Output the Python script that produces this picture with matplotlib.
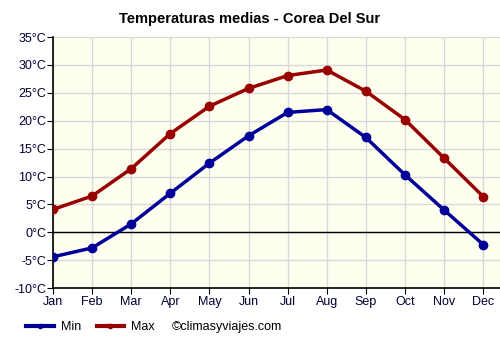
import matplotlib
matplotlib.use("Agg")
import matplotlib.pyplot as plt
from matplotlib.lines import Line2D

plt.rcParams['font.family'] = ['Liberation Sans', 'DejaVu Sans']

months = ['Jan', 'Feb', 'Mar', 'Apr', 'May', 'Jun', 'Jul', 'Aug', 'Sep', 'Oct', 'Nov', 'Dec']
t_min = [-4.4, -2.8, 1.5, 7.0, 12.4, 17.3, 21.5, 22.0, 17.0, 10.3, 4.0, -2.2]
t_max = [4.1, 6.5, 11.4, 17.7, 22.6, 25.8, 28.1, 29.1, 25.3, 20.2, 13.3, 6.4]
y_ticks = list(range(-10, 40, 5))

min_color = '#000099'
max_color = '#990000'

fig = plt.figure(figsize=(5, 3.5), dpi=100)
ax = fig.add_axes([0.106, 0.177, 0.894, 0.717])
ax.set_facecolor('#fffff0')

x = list(range(len(months)))
ax.plot(x, t_max, color=max_color, lw=2.5, marker='o', ms=6, zorder=4)
ax.plot(x, t_min, color=min_color, lw=2.5, marker='o', ms=6, zorder=4)
ax.axhline(0, color='black', lw=1, zorder=3)

ax.set_xlim(0, 11.43)
ax.set_ylim(-10, 35)
ax.set_xticks(x)
ax.set_xticklabels(months)
ax.set_yticks(y_ticks)
ax.set_yticklabels([f'{v}°C' for v in y_ticks])
ax.grid(True, color='#d8d8d8', lw=1, zorder=0)
ax.set_axisbelow(True)
ax.tick_params(labelsize=9, length=4, color='black', colors='#000033')
ax.tick_params(axis='x', pad=2)
ax.tick_params(axis='y', pad=1)
for s in ['top', 'right']:
    ax.spines[s].set_visible(False)
for s in ['left', 'bottom']:
    ax.spines[s].set_linewidth(1.2)

fig.text(0.5, 0.945, 'Temperaturas medias - Corea Del Sur', ha='center', va='center',
         fontsize=10.5, fontweight='bold')

handles = [Line2D([0], [0], color=min_color, lw=3, marker='o', ms=3),
           Line2D([0], [0], color=max_color, lw=3, marker='o', ms=3)]
fig.legend(handles, ['Min', 'Max'], loc='center left', bbox_to_anchor=(0.03, 0.066),
           ncol=2, frameon=False, fontsize=9, handlelength=2.2, columnspacing=1.2,
           handletextpad=0.6)
fig.text(0.344, 0.066, '©climasyviajes.com', ha='left', va='center', fontsize=9)

fig.savefig('out.png', dpi=100)
